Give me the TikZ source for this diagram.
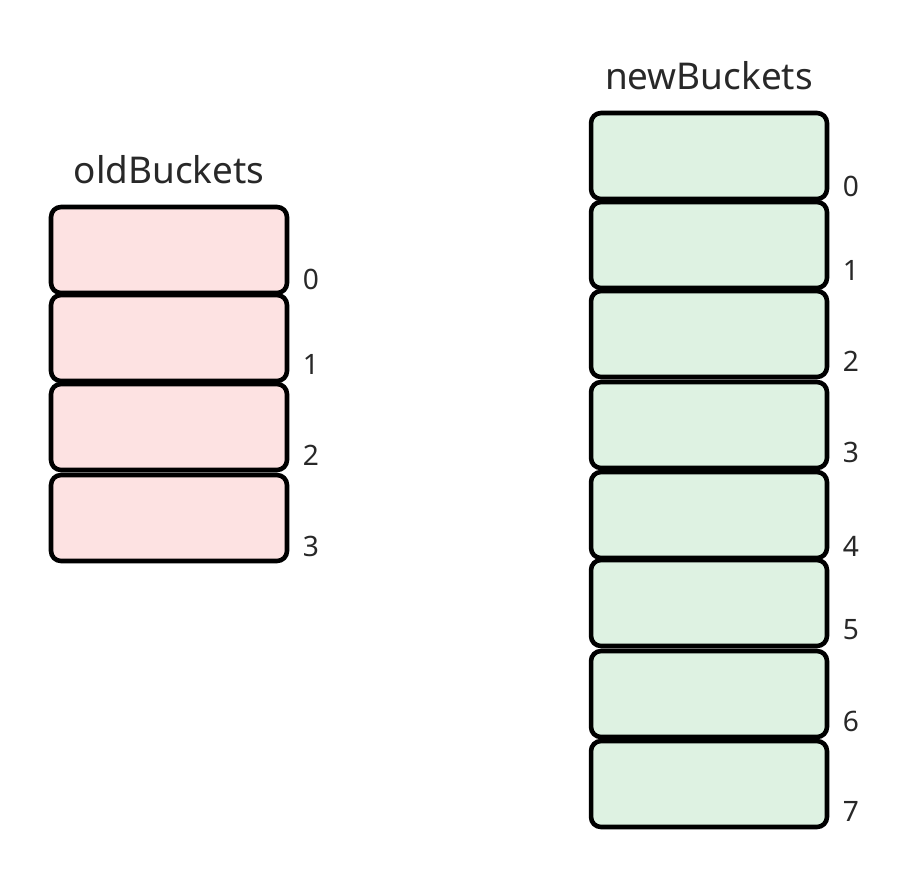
\documentclass[tikz,border=0pt]{standalone}
\usepackage{fontspec}
\setmainfont{Noto Sans}
\usetikzlibrary{positioning}

\definecolor{oldpink}{RGB}{253,226,226}
\definecolor{newgreen}{RGB}{222,242,226}
\definecolor{textgray}{RGB}{40,40,40}

\begin{document}
\begin{tikzpicture}[x=0.02cm, y=-0.02cm]
		% styles for the bucket cells and their index labels
		\tikzset{
			bucket/.style={draw=black, line width=2.6pt, rounded corners=0.2cm,
				minimum width=4.72cm, minimum height=1.72cm, inner sep=0pt},
			oldbucket/.style={bucket, fill=oldpink},
			newbucket/.style={bucket, fill=newgreen},
			idx/.style={text=textgray, font=\fontsize{16}{18}\selectfont},
			title/.style={text=textgray, font=\fontsize{21}{25}\selectfont}
		}
		
		% fix the page size
		\useasboundingbox (0, 0) rectangle (908, 880);
		
		% left column
		\def\oldx{169}
		\def\oldlab{311}
		
		\node[title] (oldtitle) at (\oldx, 170) {oldBuckets};
		
		\node[oldbucket] (old0) at (\oldx, 250) {};
		\node[oldbucket] (old1) at (\oldx, 338) {};
		\node[oldbucket] (old2) at (\oldx, 427) {};
		\node[oldbucket] (old3) at (\oldx, 518) {};
		
		\node[idx] (oldi0) at (\oldlab, 279) {0};
		\node[idx] (oldi1) at (\oldlab, 364) {1};
		\node[idx] (oldi2) at (\oldlab, 455) {2};
		\node[idx] (oldi3) at (\oldlab, 546) {3};
		
		% right column
		\def\newx{709}
		\def\newlab{851}
		
		\node[title] (newtitle) at (\newx, 76) {newBuckets};
		
		\node[newbucket] (new0) at (\newx, 156) {};
		\node[newbucket] (new1) at (\newx, 245) {};
		\node[newbucket] (new2) at (\newx, 334) {};
		\node[newbucket] (new3) at (\newx, 425) {};
		\node[newbucket] (new4) at (\newx, 515) {};
		\node[newbucket] (new5) at (\newx, 603) {};
		\node[newbucket] (new6) at (\newx, 694) {};
		\node[newbucket] (new7) at (\newx, 784) {};
		
		\node[idx] (newi0) at (\newlab, 186) {0};
		\node[idx] (newi1) at (\newlab, 270) {1};
		\node[idx] (newi2) at (\newlab, 361) {2};
		\node[idx] (newi3) at (\newlab, 452) {3};
		\node[idx] (newi4) at (\newlab, 546) {4};
		\node[idx] (newi5) at (\newlab, 630) {5};
		\node[idx] (newi6) at (\newlab, 721) {6};
		\node[idx] (newi7) at (\newlab, 811) {7};
	\end{tikzpicture}
\end{document}
